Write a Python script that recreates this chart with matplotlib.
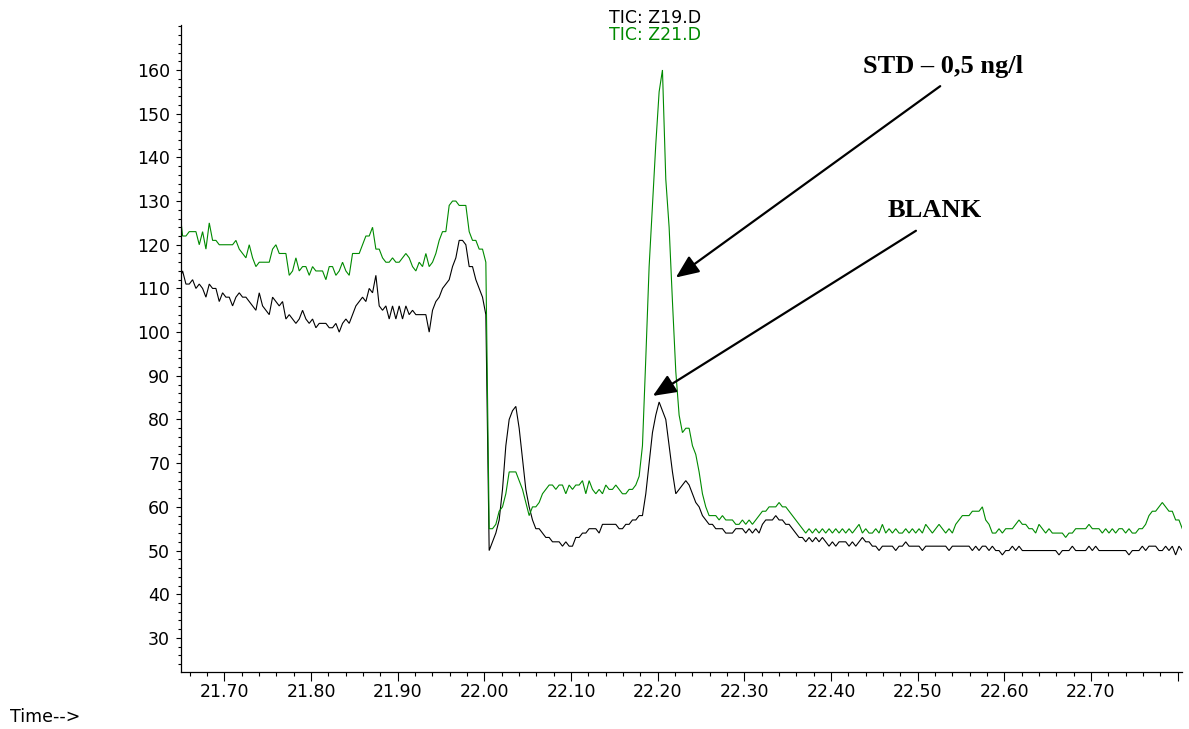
import numpy as np
import matplotlib
matplotlib.use("Agg")
import matplotlib.pyplot as plt
from matplotlib.ticker import MultipleLocator, FixedLocator, FixedFormatter
from matplotlib.patches import ArrowStyle

# ---------------- data ----------------
T0 = 21.648        # time of first stored point (min)
DT = 0.003845      # time between stored points (min)

# TIC: Z21.D (green) - before the drop at ~22.00 min
green_pre = [129, 122, 122, 123, 123, 123, 120, 123, 119, 125,
             121, 121, 120, 120, 120, 120, 120, 121, 119, 118,
             117, 120, 117, 115, 116, 116, 116, 116, 119, 120,
             118, 118, 118, 113, 114, 117, 114, 115, 115, 113,
             115, 114, 114, 114, 112, 115, 115, 113, 114, 116,
             114, 113, 118, 118, 118, 120, 122, 122, 124, 119,
             119, 117, 116, 116, 117, 116, 116, 117, 118, 117,
             115, 114, 116, 115, 118, 115, 116, 118, 121, 123,
             123, 129, 130, 130, 129, 129, 129, 123, 121, 121,
             119, 119, 116]
# TIC: Z21.D (green) - after the drop
green_post = [55, 55, 56, 59, 60, 63, 68, 68, 68, 66,
              64, 61, 58, 60, 60, 61, 63, 64, 65, 65,
              64, 65, 65, 63, 65, 64, 65, 65, 66, 63,
              66, 64, 63, 64, 63, 65, 64, 64, 65, 64,
              63, 63, 64, 64, 65, 67, 74, 94, 115, 129,
              143, 155, 160, 135, 124, 107, 91, 81, 77, 78,
              78, 74, 72, 68, 63, 60, 58, 58, 58, 57,
              58, 57, 57, 57, 56, 56, 57, 56, 57, 56,
              57, 58, 59, 59, 60, 60, 60, 61, 60, 60,
              59, 58, 57, 56, 55, 54, 55, 54, 55, 54,
              55, 54, 55, 54, 55, 54, 55, 54, 55, 54,
              55, 56, 54, 55, 54, 54, 55, 54, 56, 54,
              55, 54, 55, 54, 54, 55, 54, 55, 54, 55,
              54, 56, 55, 54, 55, 56, 55, 54, 55, 54,
              56, 57, 58, 58, 58, 59, 59, 59, 60, 57,
              56, 54, 54, 55, 54, 55, 55, 55, 56, 57,
              56, 56, 55, 55, 54, 56, 55, 54, 55, 54,
              54, 54, 54, 53, 54, 54, 55, 55, 55, 55,
              56, 55, 55, 55, 54, 55, 54, 55, 54, 55,
              55, 54, 55, 54, 54, 55, 55, 56, 58, 59,
              59, 60, 61, 60, 59, 59, 57, 57, 55, 54,
              54]

# TIC: Z19.D (black) - before the drop
black_pre = [112, 114, 111, 111, 112, 110, 111, 110, 108, 111,
             110, 110, 107, 109, 108, 108, 106, 108, 109, 108,
             108, 107, 106, 105, 109, 106, 105, 104, 108, 107,
             106, 107, 103, 104, 103, 102, 103, 105, 103, 102,
             103, 101, 102, 102, 102, 101, 101, 102, 100, 102,
             103, 102, 104, 106, 107, 108, 107, 110, 109, 113,
             106, 105, 106, 103, 106, 103, 106, 103, 106, 104,
             105, 104, 104, 104, 104, 100, 105, 107, 108, 110,
             111, 112, 115, 117, 121, 121, 120, 115, 115, 112,
             110, 108, 104]
# TIC: Z19.D (black) - after the drop
black_post = [50, 52, 54, 57, 64, 74, 80, 82, 83, 78,
              71, 64, 60, 57, 55, 55, 54, 53, 53, 52,
              52, 52, 51, 52, 51, 51, 53, 53, 54, 54,
              55, 55, 55, 54, 56, 56, 56, 56, 56, 55,
              55, 56, 56, 57, 57, 58, 58, 63, 70, 77,
              81, 84, 82, 80, 74, 68, 63, 64, 65, 66,
              65, 63, 61, 60, 58, 57, 56, 56, 55, 55,
              55, 54, 54, 54, 55, 55, 55, 54, 55, 54,
              55, 54, 56, 57, 57, 57, 58, 57, 57, 56,
              56, 55, 54, 53, 53, 52, 53, 52, 53, 52,
              53, 52, 51, 52, 51, 52, 52, 52, 51, 52,
              51, 52, 53, 52, 52, 51, 51, 50, 51, 51,
              51, 51, 50, 51, 51, 52, 51, 51, 51, 51,
              50, 51, 51, 51, 51, 51, 51, 51, 50, 51,
              51, 51, 51, 51, 51, 50, 51, 50, 51, 51,
              50, 51, 50, 50, 49, 50, 50, 51, 50, 51,
              50, 50, 50, 50, 50, 50, 50, 50, 50, 50,
              50, 49, 50, 50, 50, 51, 50, 50, 50, 50,
              51, 50, 51, 50, 50, 50, 50, 50, 50, 50,
              50, 50, 49, 50, 50, 50, 51, 50, 51, 51,
              51, 50, 50, 51, 50, 51, 49, 51, 50, 50,
              50]

x_major = [21.70, 21.80, 21.90, 22.00, 22.10, 22.20, 22.30, 22.40, 22.50, 22.60, 22.70, 22.80]
x_labels = ["21.70", "21.80", "21.90", "22.00", "22.10", "22.20", "22.30",
            "22.40", "22.50", "22.60", "22.70", ""]
y_major = [30, 40, 50, 60, 70, 80, 90, 100, 110, 120, 130, 140, 150, 160]

series_names = ["TIC: Z19.D", "TIC: Z21.D"]
ann_std = "STD \u2013 0,5 ng/l"
ann_blank = "BLANK"
# annotation anchor points in data units (text, arrow tail, arrow head)
std_text_xy = (22.437, 159.2)
std_tail = (22.526, 156.3)
std_head = (22.221, 112.5)
blank_text_xy = (22.465, 126.4)
blank_tail = (22.498, 123.2)
blank_head = (22.1945, 85.4)

# ---------------- build series ----------------
green = np.array(green_pre + green_post, dtype=float)
black = np.array(black_pre + black_post, dtype=float)
t = T0 + DT * np.arange(len(green))

GREEN = "#008a00"
SANS = ["DejaVu Sans"]
SERIF = ["Liberation Serif", "DejaVu Serif"]

fig = plt.figure(figsize=(11.89, 7.29), dpi=100)
W, H = 1189.0, 729.0
ax = fig.add_axes([181 / W, 57 / H, (1182 - 181) / W, (672 - 25) / H])

ax.plot(t, black, color="black", lw=0.8, solid_joinstyle="miter")
ax.plot(t, green, color=GREEN, lw=0.8, solid_joinstyle="miter")

ax.set_xlim(21.650, 22.805)
ax.set_ylim(22.2, 170.3)

for s in ("top", "right"):
    ax.spines[s].set_visible(False)
for s in ("left", "bottom"):
    ax.spines[s].set_linewidth(0.9)

ax.xaxis.set_major_locator(FixedLocator(x_major))
ax.xaxis.set_major_formatter(FixedFormatter(x_labels))
ax.xaxis.set_minor_locator(MultipleLocator(0.02))
ax.yaxis.set_major_locator(FixedLocator(y_major))
ax.yaxis.set_minor_locator(MultipleLocator(2))

ax.tick_params(axis="x", which="major", direction="out", length=6.5, width=0.8, pad=1.5,
               labelsize=12.5)
ax.tick_params(axis="x", which="minor", direction="out", length=3.2, width=0.8)
ax.tick_params(axis="y", which="major", direction="out", length=3.8, width=0.8, pad=4,
               labelsize=12.5)
ax.tick_params(axis="y", which="minor", direction="out", length=2.4, width=0.8)
for lab in ax.get_xticklabels() + ax.get_yticklabels():
    lab.set_family(SANS)

# series labels at the top
fig.text(609 / W, 1 - 23.3 / H, series_names[0], color="black", fontsize=12.5,
         family=SANS, ha="left", va="baseline")
fig.text(609 / W, 1 - 40.5 / H, series_names[1], color=GREEN, fontsize=12.5,
         family=SANS, ha="left", va="baseline")

fig.text(10 / W, 1 - 722 / H, "Time-->", color="black", fontsize=12.5,
         family=SANS, ha="left", va="baseline")

# annotations
ax.text(std_text_xy[0], std_text_xy[1], ann_std, fontsize=19, fontweight="bold",
        family=SERIF, ha="left", va="baseline")
ax.text(blank_text_xy[0], blank_text_xy[1], ann_blank, fontsize=19, fontweight="bold",
        family=SERIF, ha="left", va="baseline")

astyle = ArrowStyle("-|>", head_length=0.7, head_width=0.3)
for tail, head in ((std_tail, std_head), (blank_tail, blank_head)):
    ax.annotate("", xy=head, xytext=tail,
                arrowprops=dict(arrowstyle=astyle, mutation_scale=20, lw=1.6,
                                color="black", shrinkA=0, shrinkB=0))

fig.savefig("out.png", dpi=100)
